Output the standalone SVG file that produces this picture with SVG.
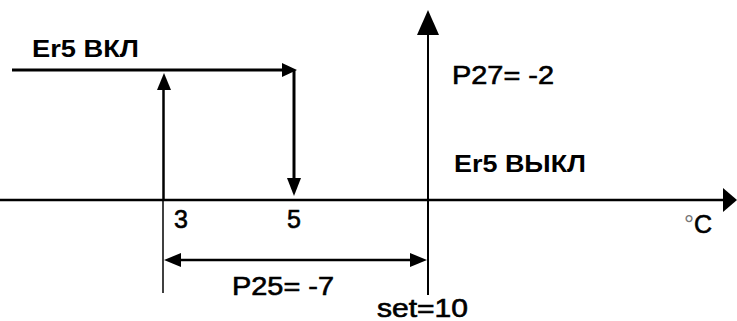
<svg xmlns="http://www.w3.org/2000/svg" width="737" height="321" viewBox="0 0 737 321">
<style>
.ln{stroke:#000;fill:none}
.ah{fill:#000;stroke:none}
.b{font-family:"Liberation Sans",Arial,sans-serif;font-weight:bold;font-size:24px;fill:#000}
.r{font-family:"Liberation Sans",Arial,sans-serif;font-size:25px;fill:#000;stroke:#000;stroke-width:0.6}
.deg{fill:#777;stroke:none}
</style>
<rect width="737" height="321" fill="#fff"/>
<g id="connectors">
  <line class="ln" x1="0" y1="200" x2="726" y2="200" stroke-width="2.5"/>
  <polygon class="ah" points="737,200 723,188 723,212"/>
  <line class="ln" x1="428" y1="30" x2="428" y2="295" stroke-width="2"/>
  <polygon class="ah" points="428,10 417,35 439,35"/>
  <line class="ln" x1="12" y1="70" x2="290" y2="70" stroke-width="3"/>
  <polygon class="ah" points="297,70 282,63 282,77"/>
  <line class="ln" x1="294" y1="70" x2="294" y2="180" stroke-width="3"/>
  <polygon class="ah" points="294,196 287,178 301,178"/>
  <line class="ln" x1="163.5" y1="200" x2="163.5" y2="88" stroke-width="2.5"/>
  <polygon class="ah" points="164,73 157,90 171,90"/>
  <line class="ln" x1="163" y1="200" x2="163" y2="293" stroke-width="1.5"/>
  <line class="ln" x1="175" y1="260" x2="415" y2="260" stroke-width="2.5"/>
  <polygon class="ah" points="164,260 181,253 181,267"/>
  <polygon class="ah" points="427,260 410,253 410,267"/>
</g>
<g id="label-er5-on"><text class="b" x="32" y="57" textLength="107" lengthAdjust="spacingAndGlyphs">Er5 ВКЛ</text></g>
<g id="label-p27"><text class="r" x="452" y="84" textLength="102" lengthAdjust="spacingAndGlyphs">P27= -2</text></g>
<g id="label-er5-off"><text class="b" x="454" y="172" textLength="132" lengthAdjust="spacingAndGlyphs">Er5 ВЫКЛ</text></g>
<g id="label-3"><text class="r" x="174" y="228">3</text></g>
<g id="label-5"><text class="r" x="287" y="228">5</text></g>
<g id="label-p25"><text class="r" x="232" y="295" textLength="102" lengthAdjust="spacingAndGlyphs">P25= -7</text></g>
<g id="label-set"><text class="r" x="377" y="317" textLength="91" lengthAdjust="spacingAndGlyphs">set=10</text></g>
<g id="label-unit"><text class="r" x="684" y="233"><tspan class="deg">°</tspan>C</text></g>
</svg>
